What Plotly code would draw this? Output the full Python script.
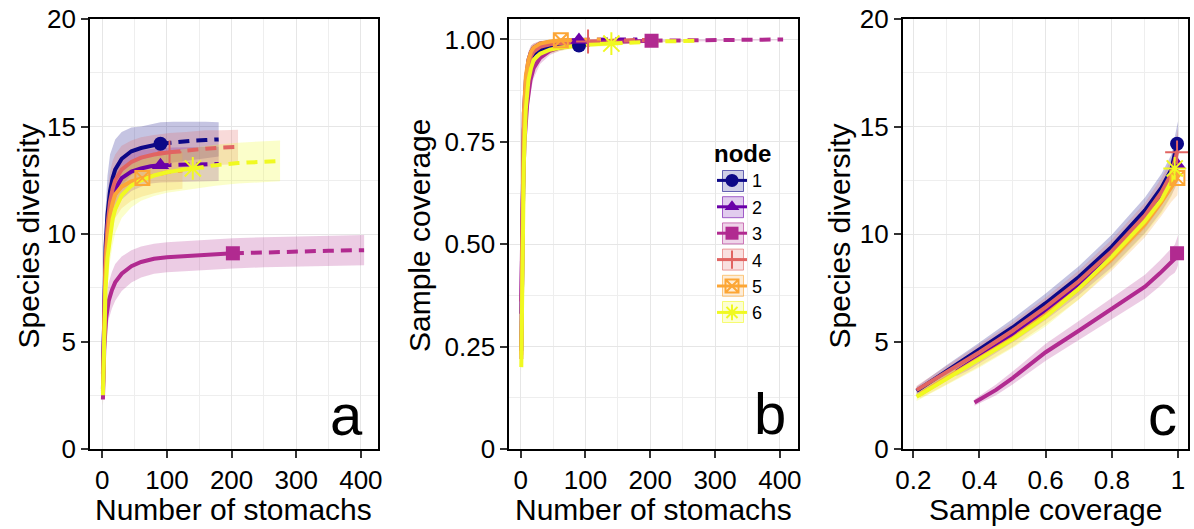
import plotly.graph_objects as go

# ---------------- data ----------------
NODES = ["1", "2", "3", "4", "5", "6"]
COLORS = ["#0D0887", "#6A00A8", "#B12A90", "#E16462", "#FCA636", "#F0F921"]
SYMBOLS = ["circle", "triangle-up", "square", "cross-thin-open", "square-x-open", "asterisk-open"]

# Panel a / b : number of stomachs (interpolated part, ends at reference sample)
N_INT = [
    [1, 3, 5, 8, 12, 16, 20, 30, 45, 60, 75, 90],
    [1, 3, 5, 8, 12, 16, 20, 30, 45, 60, 75, 90],
    [1, 3, 6, 10, 15, 20, 30, 45, 60, 80, 100, 130, 160, 202],
    [1, 3, 5, 8, 12, 16, 20, 30, 45, 60, 80, 104],
    [1, 3, 5, 8, 12, 16, 20, 30, 45, 62],
    [1, 3, 5, 8, 12, 16, 20, 30, 45, 60, 80, 100, 120, 140],
]
# extrapolated part
N_EXT = [
    [90, 110, 135, 160, 180],
    [90, 110, 135, 160, 180],
    [202, 250, 300, 350, 405],
    [104, 130, 160, 185, 210],
    [62, 80, 100, 124],
    [140, 175, 210, 245, 275],
]
# Panel a : species diversity
DIV_INT = [
    [2.8, 7.6, 9.4, 10.9, 12.0, 12.6, 13.0, 13.5, 13.85, 14.0, 14.1, 14.2],
    [3.5, 7.0, 8.7, 10.1, 11.1, 11.7, 12.1, 12.6, 12.9, 13.05, 13.15, 13.2],
    [2.3, 4.6, 6.1, 6.9, 7.4, 7.75, 8.15, 8.5, 8.7, 8.85, 8.92, 8.98, 9.04, 9.1],
    [2.7, 7.0, 8.9, 10.4, 11.5, 12.1, 12.5, 13.0, 13.35, 13.55, 13.7, 13.8],
    [2.6, 6.6, 8.3, 9.8, 10.9, 11.45, 11.85, 12.2, 12.45, 12.6],
    [2.5, 5.8, 7.4, 8.9, 10.0, 10.7, 11.15, 11.8, 12.25, 12.5, 12.72, 12.87, 12.97, 13.05],
]
DIV_EXT = [
    [14.2, 14.27, 14.33, 14.37, 14.4],
    [13.2, 13.22, 13.24, 13.25, 13.26],
    [9.1, 9.15, 9.19, 9.22, 9.25],
    [13.8, 13.9, 13.97, 14.02, 14.05],
    [12.6, 12.75, 12.87, 12.95],
    [13.05, 13.2, 13.3, 13.36, 13.4],
]
# half width of the confidence band
DIV_INT_CI = [
    [0.5, 1.5, 1.7, 1.8, 1.7, 1.5, 1.4, 1.25, 1.1, 1.0, 1.0, 1.0],
    [0.5, 1.3, 1.4, 1.4, 1.3, 1.2, 1.1, 1.0, 0.9, 0.85, 0.8, 0.8],
    [0.3, 0.7, 0.8, 0.85, 0.85, 0.85, 0.8, 0.75, 0.72, 0.7, 0.7, 0.7, 0.7, 0.7],
    [0.5, 1.4, 1.5, 1.5, 1.4, 1.3, 1.2, 1.1, 1.0, 0.95, 0.9, 0.9],
    [0.5, 1.3, 1.4, 1.4, 1.3, 1.2, 1.1, 1.0, 0.9, 0.85],
    [0.5, 1.2, 1.3, 1.3, 1.25, 1.2, 1.1, 1.05, 1.0, 0.95, 0.95, 0.95, 0.95, 0.95],
]
DIV_EXT_CI = [
    [1.0, 0.95, 0.9, 0.85, 0.8],
    [0.8, 0.8, 0.8, 0.8, 0.8],
    [0.7, 0.7, 0.7, 0.7, 0.7],
    [0.9, 0.85, 0.85, 0.8, 0.8],
    [0.85, 0.85, 0.85, 0.85],
    [0.95, 0.95, 0.95, 0.95, 0.95],
]
# Panel b : sample coverage
COV_INT = [
    [0.24, 0.62, 0.78, 0.88, 0.93, 0.955, 0.965, 0.975, 0.98, 0.983, 0.985, 0.985],
    [0.33, 0.68, 0.82, 0.90, 0.95, 0.97, 0.98, 0.99, 0.994, 0.996, 0.998, 0.999],
    [0.36, 0.60, 0.75, 0.84, 0.90, 0.93, 0.955, 0.972, 0.98, 0.986, 0.99, 0.993, 0.995, 0.997],
    [0.22, 0.60, 0.78, 0.88, 0.93, 0.96, 0.97, 0.982, 0.988, 0.991, 0.993, 0.995],
    [0.23, 0.65, 0.82, 0.91, 0.95, 0.97, 0.98, 0.99, 0.995, 0.998],
    [0.20, 0.52, 0.70, 0.83, 0.90, 0.93, 0.95, 0.965, 0.975, 0.98, 0.984, 0.987, 0.989, 0.99],
]
COV_EXT = [
    [0.985, 0.99, 0.994, 0.997, 0.998],
    [0.999, 1.0, 1.0, 1.0, 1.0],
    [0.997, 0.998, 0.999, 0.999, 1.0],
    [0.995, 0.997, 0.998, 0.999, 0.999],
    [0.998, 0.999, 0.999, 1.0],
    [0.99, 0.993, 0.995, 0.996, 0.997],
]
COV_INT_CI = [
    [0.03, 0.05, 0.04, 0.03, 0.02, 0.015, 0.012, 0.01, 0.008, 0.007, 0.006, 0.006],
    [0.03, 0.05, 0.04, 0.03, 0.02, 0.015, 0.01, 0.006, 0.004, 0.003, 0.002, 0.002],
    [0.03, 0.05, 0.04, 0.035, 0.03, 0.025, 0.015, 0.01, 0.008, 0.006, 0.005, 0.004, 0.003, 0.003],
    [0.035, 0.05, 0.04, 0.03, 0.02, 0.015, 0.012, 0.008, 0.006, 0.005, 0.004, 0.004],
    [0.03, 0.05, 0.04, 0.03, 0.02, 0.015, 0.01, 0.006, 0.004, 0.003],
    [0.03, 0.05, 0.045, 0.035, 0.025, 0.02, 0.015, 0.012, 0.01, 0.008, 0.007, 0.006, 0.006, 0.006],
]
# Panel c : diversity against sample coverage
SC_INT = [
    [0.21, 0.3, 0.4, 0.5, 0.6, 0.7, 0.8, 0.9, 0.95, 0.98, 0.997],
    [0.33, 0.365, 0.4, 0.5, 0.6, 0.7, 0.8, 0.9, 0.95, 0.98, 0.999],
    [0.385, 0.45, 0.5, 0.6, 0.7, 0.8, 0.9, 0.945, 0.975, 0.99, 0.997],
    [0.21, 0.3, 0.4, 0.5, 0.6, 0.7, 0.8, 0.9, 0.95, 0.98, 0.997],
    [0.22, 0.3, 0.4, 0.5, 0.6, 0.7, 0.8, 0.9, 0.95, 0.98, 0.998],
    [0.21, 0.3, 0.4, 0.5, 0.6, 0.7, 0.8, 0.9, 0.95, 0.98, 0.99],
]
SD_INT = [
    [2.7, 3.6, 4.6, 5.65, 6.78, 8.0, 9.41, 11.1, 12.15, 13.0, 14.2],
    [3.6, 3.95, 4.3, 5.3, 6.4, 7.6, 8.95, 10.6, 11.65, 12.45, 13.2],
    [2.16, 2.75, 3.3, 4.5, 5.5, 6.54, 7.55, 8.17, 8.64, 8.85, 9.1],
    [2.74, 3.55, 4.5, 5.5, 6.6, 7.8, 9.2, 10.85, 11.95, 12.8, 13.8],
    [2.55, 3.3, 4.2, 5.15, 6.25, 7.45, 8.85, 10.45, 11.5, 12.2, 12.6],
    [2.43, 3.25, 4.14, 5.1, 6.15, 7.45, 8.95, 10.6, 11.6, 12.45, 13.05],
]
SD_INT_CI = [
    [0.2, 0.3, 0.35, 0.4, 0.45, 0.5, 0.55, 0.6, 0.65, 0.7, 0.85],
    [0.2, 0.3, 0.3, 0.35, 0.4, 0.45, 0.5, 0.55, 0.6, 0.65, 0.8],
    [0.15, 0.25, 0.3, 0.4, 0.45, 0.5, 0.55, 0.6, 0.6, 0.65, 0.7],
    [0.2, 0.3, 0.35, 0.4, 0.45, 0.5, 0.55, 0.6, 0.65, 0.7, 0.85],
    [0.2, 0.3, 0.35, 0.4, 0.45, 0.5, 0.55, 0.6, 0.65, 0.7, 0.8],
    [0.2, 0.3, 0.35, 0.4, 0.45, 0.5, 0.55, 0.6, 0.65, 0.7, 0.9],
]
SC_EXT = [
    [0.997, 0.999, 1.0],
    [0.999, 1.0],
    [0.997, 0.999, 1.0],
    [0.997, 0.999, 1.0],
    [0.998, 0.999, 1.0],
    [0.99, 0.995, 0.997],
]
SD_EXT = [
    [14.2, 14.32, 14.4],
    [13.2, 13.26],
    [9.1, 9.2, 9.25],
    [13.8, 13.97, 14.05],
    [12.6, 12.8, 12.95],
    [13.05, 13.3, 13.4],
]

X_TICKS_N = [0, 100, 200, 300, 400]
Y_TICKS_DIV = [0, 5, 10, 15, 20]
Y_TICKS_COV = [0, 0.25, 0.5, 0.75, 1.0]
Y_TICKTEXT_COV = ["0", "0.25", "0.50", "0.75", "1.00"]
X_TICKS_SC = [0.2, 0.4, 0.6, 0.8, 1.0]
X_TICKTEXT_SC = ["0.2", "0.4", "0.6", "0.8", "1"]

# ---------------- figure ----------------
W, H = 1194, 529
FONT = "Liberation Sans, Arial, Helvetica, sans-serif"


def rgba(hexc, a):
    h = hexc.lstrip("#")
    r, g, b = int(h[0:2], 16), int(h[2:4], 16), int(h[4:6], 16)
    return f"rgba({r},{g},{b},{a})"


def band(x, y, hw):
    lo = [v - w for v, w in zip(y, hw)]
    hi = [v + w for v, w in zip(y, hw)]
    return list(x) + list(x)[::-1], hi + lo[::-1]


fig = go.Figure()
LW = 4
DASH = "11px,7px"
FA = 0.24

# ribbons first
for i in range(6):
    col = COLORS[i]
    xs = N_INT[i] + N_EXT[i][1:]
    ys = DIV_INT[i] + DIV_EXT[i][1:]
    ws = DIV_INT_CI[i] + DIV_EXT_CI[i][1:]
    bx, by = band(xs, ys, ws)
    fig.add_trace(go.Scatter(x=bx, y=by, fill="toself", fillcolor=rgba(col, FA), line=dict(width=0),
                             mode="lines", hoverinfo="skip", showlegend=False, xaxis="x", yaxis="y"))
    cs = COV_INT[i] + COV_EXT[i][1:]
    cw = COV_INT_CI[i] + [0.002] * (len(COV_EXT[i]) - 1)
    bx, by = band(xs, cs, cw)
    by = [min(v, 1.0) for v in by]
    fig.add_trace(go.Scatter(x=bx, y=by, fill="toself", fillcolor=rgba(col, FA), line=dict(width=0),
                             mode="lines", hoverinfo="skip", showlegend=False, xaxis="x2", yaxis="y2"))
    sx = SC_INT[i] + SC_EXT[i][1:]
    sy = SD_INT[i] + SD_EXT[i][1:]
    sw = SD_INT_CI[i] + [SD_INT_CI[i][-1]] * (len(SC_EXT[i]) - 1)
    bx, by = band(sx, sy, sw)
    fig.add_trace(go.Scatter(x=bx, y=by, fill="toself", fillcolor=rgba(col, FA), line=dict(width=0),
                             mode="lines", hoverinfo="skip", showlegend=False, xaxis="x3", yaxis="y3"))

# lines
for i in range(6):
    col = COLORS[i]
    sets = [
        ("x", "y", N_INT[i], DIV_INT[i], N_EXT[i], DIV_EXT[i]),
        ("x2", "y2", N_INT[i], COV_INT[i], N_EXT[i], COV_EXT[i]),
        ("x3", "y3", SC_INT[i], SD_INT[i], SC_EXT[i], SD_EXT[i]),
    ]
    for xa, ya, xi, yi, xe, ye in sets:
        fig.add_trace(go.Scatter(x=xi, y=yi, mode="lines", line=dict(color=col, width=LW),
                                 showlegend=False, xaxis=xa, yaxis=ya))
        fig.add_trace(go.Scatter(x=xe, y=ye, mode="lines", line=dict(color=col, width=LW, dash=DASH),
                                 showlegend=False, xaxis=xa, yaxis=ya))

# observed (reference) points
MSIZE = [14, 15, 14, 17, 14, 19]
for i in range(6):
    col = COLORS[i]
    mk = dict(symbol=SYMBOLS[i], size=MSIZE[i], color=col, line=dict(color=col, width=2 if i >= 3 else 0))
    fig.add_trace(go.Scatter(x=[N_INT[i][-1]], y=[DIV_INT[i][-1]], mode="markers", marker=mk,
                             showlegend=False, xaxis="x", yaxis="y"))
    fig.add_trace(go.Scatter(x=[N_INT[i][-1]], y=[COV_INT[i][-1]], mode="markers", marker=mk,
                             showlegend=False, xaxis="x2", yaxis="y2"))
    fig.add_trace(go.Scatter(x=[SC_INT[i][-1]], y=[SD_INT[i][-1]], mode="markers", marker=mk,
                             showlegend=False, xaxis="x3", yaxis="y3"))

# legend entries
for i in range(6):
    col = COLORS[i]
    fig.add_trace(go.Scatter(x=[None], y=[None], mode="lines+markers", name=NODES[i],
                             line=dict(color=col, width=3),
                             marker=dict(symbol=SYMBOLS[i], size=13, color=col,
                                         line=dict(color=col, width=2 if i >= 3 else 0)),
                             xaxis="x2", yaxis="y2"))


def dom_x(a, b):
    return [a / W, b / W]


YDOM = [1 - 449 / H, 1 - 19 / H]
axis_common = dict(
    automargin=False,
    showline=True, mirror=True, linecolor="black", linewidth=1.8,
    ticks="outside", ticklen=7, tickwidth=1.5, tickcolor="#333333",
    showgrid=True, gridcolor="#e6e6e6", gridwidth=1.3, zeroline=False,
    tickfont=dict(family=FONT, size=26, color="black"),
)
minor_common = dict(showgrid=True, gridcolor="#eeeeee", gridwidth=0.9, ticks="")

# light key boxes behind the legend symbols (legend decoration)
KEY_CX, KEY_Y0, KEY_DY, KEY_HALF = 733, 181, 26.2, 10.5
shapes = []
for i in range(6):
    cy = KEY_Y0 + i * KEY_DY
    shapes.append(dict(type="rect", xref="paper", yref="paper",
                       x0=(KEY_CX - KEY_HALF) / W, x1=(KEY_CX + KEY_HALF) / W,
                       y0=1 - (cy + KEY_HALF) / H, y1=1 - (cy - KEY_HALF) / H,
                       fillcolor=rgba(COLORS[i], 0.2), line=dict(color=rgba(COLORS[i], 0.6), width=1),
                       layer="above"))

fig.update_layout(
    template="none",
    width=W, height=H, margin=dict(l=0, r=0, t=0, b=0, pad=0),
    paper_bgcolor="white", plot_bgcolor="white",
    font=dict(family=FONT, color="black"),
    xaxis=dict(domain=dom_x(90, 377.7), range=[-19, 426], tickvals=X_TICKS_N, anchor="y",
               minor=dict(tickvals=[50, 150, 250, 350], **minor_common), **axis_common),
    yaxis=dict(domain=YDOM, range=[0, 20], tickvals=Y_TICKS_DIV, anchor="x",
               minor=dict(tickvals=[2.5, 7.5, 12.5, 17.5], **minor_common), **axis_common),
    xaxis2=dict(domain=dom_x(509.3, 797.7), range=[-17.5, 427.5], tickvals=X_TICKS_N, anchor="y2",
                minor=dict(tickvals=[50, 150, 250, 350], **minor_common), **axis_common),
    yaxis2=dict(domain=YDOM, range=[0, 1.05], tickvals=Y_TICKS_COV, ticktext=Y_TICKTEXT_COV, anchor="x2",
                minor=dict(tickvals=[0.125, 0.375, 0.625, 0.875], **minor_common), **axis_common),
    xaxis3=dict(domain=dom_x(902.7, 1188.3), range=[0.168, 1.031], tickvals=X_TICKS_SC,
                ticktext=X_TICKTEXT_SC, anchor="y3",
                minor=dict(tickvals=[0.3, 0.5, 0.7, 0.9], **minor_common), **axis_common),
    yaxis3=dict(domain=YDOM, range=[0, 20], tickvals=Y_TICKS_DIV, anchor="x3",
                minor=dict(tickvals=[2.5, 7.5, 12.5, 17.5], **minor_common), **axis_common),
    legend=dict(x=712 / W, y=1 - 131 / H, xanchor="left", yanchor="top",
                bgcolor="rgba(0,0,0,0)", itemwidth=30, tracegroupgap=0,
                font=dict(family=FONT, size=18, color="black"),
                title=dict(text="<b>node</b>", font=dict(family=FONT, size=24, color="black"))),
    showlegend=True,
    shapes=shapes,
)

TITLE_SIZE = 30
annots = [
    ("Number of stomachs", 233.9, 509, 0),
    ("Number of stomachs", 653.5, 509, 0),
    ("Sample coverage", 1045.5, 509, 0),
    ("Species diversity", 27.5, 236, -90),
    ("Sample coverage", 419, 236, -90),
    ("Species diversity", 838.5, 236, -90),
]
for txt, px, py, ang in annots:
    fig.add_annotation(text=txt, x=px / W, y=1 - py / H, xref="paper", yref="paper",
                       xanchor="center", yanchor="middle", textangle=ang, showarrow=False,
                       font=dict(family=FONT, size=TITLE_SIZE, color="black"))

for txt, px, py in [("a", 346.7, 414), ("b", 769.5, 413), ("c", 1162, 414)]:
    fig.add_annotation(text=txt, x=px / W, y=1 - py / H, xref="paper", yref="paper",
                       xanchor="center", yanchor="middle", showarrow=False,
                       font=dict(family=FONT, size=58, color="black"))

fig.write_html("out.html")
